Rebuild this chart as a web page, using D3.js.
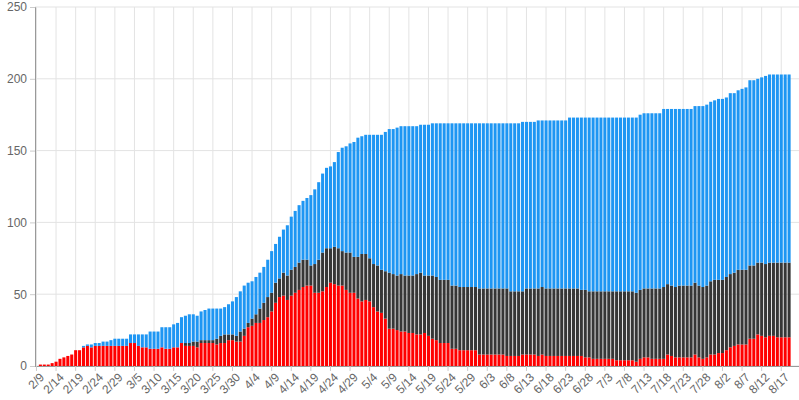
<!DOCTYPE html>
<html><head><meta charset="utf-8">
<script src="https://cdn.jsdelivr.net/npm/d3@7"></script>
<style>body{margin:0;background:#fff}svg{display:block}text{font-family:"Liberation Sans",Arial,sans-serif}</style>
</head><body><svg id="c" width="799" height="400"></svg>
<script>
const startDate = "2020-02-09";
const numDays = 193;
const tickLabels = ["2/9","2/14","2/19","2/24","2/29","3/5","3/10","3/15","3/20","3/25","3/30","4/4","4/9","4/14","4/19","4/24","4/29","5/4","5/9","5/14","5/19","5/24","5/29","6/3","6/8","6/13","6/18","6/23","6/28","7/3","7/8","7/13","7/18","7/23","7/28","8/2","8/7","8/12","8/17"];
const yTicks = [0,50,100,150,200,250];

// red series (bottom)
const redSeries = [0,1,1,1,2,3,5,6,7,8, 11,11,13,14,13,14,14,14,14,14, 14,14,14,14,16,16,14,13,13,12, 12,12,13,12,12,13,13,16,14,14,
 14,13,16,16,16,16,15,16,16,18, 18,17,17,21,27,28,30,30,
 32,34,38,44,48,49,46,49,51,53, 55,56,56,51,51,52,55,58,57,56, 56,53,51,51,47,45,46,45,41,38, 37,33,26,26,25,24,24,23,23,22, 22,23,21,19,18,16,16,
 16,12,12,11,11,11,11,11,8,8, 8,8,8,8,8,7,7,7,7,8, 8,8,8,7,8,7,7,7,7,7, 7,7,7,7,7,6,6,5,5,5,
 5,5,5,4,4,4,4,4,3,5, 6,6,5,5,5,5,8,7,6,6, 6,6,6,8,6,5,6,8,8,9, 9,11,13,14,15,15,15,19,19,22, 21,20,21,21,20,20,20,20];
// top of dark series (red + dark)
const darkTop = [0,1,1,1,2,3,5,6,7,8, 11,11,13,14,13,14,14,14,14,14, 14,14,14,14,16,16,14,13,13,12, 12,12,13,12,12,13,13,16,16,16,
 17,17,18,18,18,18,19,21,22,22, 22,21,24,26,30,33,36,40,
 44,48,51,58,61,65,63,67,69,72, 74,74,70,71,74,79,82,82,83,82, 80,79,79,76,76,78,78,75,71,70, 67,66,65,64,63,64,63,63,63,64, 65,63,63,63,62,60,60,
 60,56,56,55,55,55,55,55,54,54, 54,54,54,54,54,54,52,52,52,52, 54,54,54,54,55,54,54,54,54,54, 54,54,54,54,53,53,52,52,52,52,
 52,52,52,52,52,52,52,52,51,53, 54,54,54,54,54,55,57,56,55,56, 56,56,56,58,56,55,56,59,60,60, 60,62,64,65,67,67,67,70,70,72, 72,71,72,72,72,72,72,72];
// total height (red + dark + blue)
const totalTop = [0,1,1,1,2,3,5,6,7,8, 11,11,14,15,15,16,16,17,17,18, 19,19,19,19,22,22,22,22,22,24, 24,24,27,27,27,29,30,34,35,36,
 36,35,38,39,40,40,40,40,41,43, 45,48,52,56,58,59,62,65,
 69,74,80,85,90,95,98,104,108,112, 115,117,119,123,128,134,138,139,142,149, 152,153,155,156,159,160,161,161,161,161, 161,163,165,165,166,167,167,167,167,167, 168,168,168,169,169,169,169,
 169,169,169,169,169,169,169,169,169,169, 169,169,169,169,169,169,169,169,169,170, 170,170,170,171,171,171,171,171,171,171, 171,173,173,173,173,173,173,173,173,173,
 173,173,173,173,173,173,173,173,173,175, 176,176,176,176,176,179,179,179,179,179, 179,179,179,181,181,181,182,184,185,186, 186,187,190,190,192,193,194,199,199,200, 201,202,203,203,203,203,203,203];

const parse = d3.timeParse("%Y-%m-%d");
const fmt = d => (d.getMonth()+1) + "/" + d.getDate();
const d0 = parse(startDate);
const dates = d3.range(numDays).map(i => d3.timeDay.offset(d0, i));
const labels = dates.map(fmt);
const rows = labels.map((l,i)=>({label:l, red:redSeries[i], dark:darkTop[i]-redSeries[i], blue:totalTop[i]-darkTop[i]}));
const keys = ["red","dark","blue"];
const colors = {red:"#ff0000", dark:"#363636", blue:"#1e96f3"};
const stack = d3.stack().keys(keys)(rows);

const svg = d3.select("#c");
const x = d3.scaleBand().domain(labels).range([34.5, 34.5 + numDays*3.92]).paddingInner(0.22).paddingOuter(0.11);
const y = d3.scaleLinear().domain([0,250]).range([366,7]);
const cx = l => x(l) + x.bandwidth()/2;

// grid
svg.append("g").selectAll("line").data(yTicks).join("line")
  .attr("x1",35).attr("x2",799).attr("y1",d=>y(d)).attr("y2",d=>y(d)).attr("stroke","#e3e3e3");
svg.append("g").selectAll("line").data(tickLabels).join("line")
  .attr("x1",d=>cx(d)).attr("x2",d=>cx(d)).attr("y1",7).attr("y2",366).attr("stroke","#e3e3e3");

// bars
svg.append("g").selectAll("g").data(stack).join("g").attr("fill",d=>colors[d.key])
  .selectAll("rect").data(d=>d).join("rect")
  .attr("x",d=>x(d.data.label)).attr("width",x.bandwidth())
  .attr("y",d=>y(d[1])).attr("height",d=>Math.max(0,y(d[0])-y(d[1])));

// axes
const ya = svg.append("g").attr("transform","translate(35,0)")
  .call(d3.axisLeft(y).tickValues(yTicks).tickSize(5).tickPadding(3));
ya.select(".domain").attr("stroke","#999");
ya.selectAll(".tick line").attr("stroke","#ccc");
ya.selectAll("text").attr("fill","#666").style("font-size","12px");

const xa = svg.append("g").attr("transform","translate(0,366)")
  .call(d3.axisBottom(x).tickValues(tickLabels).tickSize(5).tickSizeOuter(0));
xa.select(".domain").attr("stroke","#999").attr("d","M35,0.5H799");
xa.selectAll(".tick line").attr("stroke","#ccc");
xa.selectAll("text").attr("fill","#666").style("font-size","12px")
  .attr("text-anchor","end").attr("dx","-0.2em").attr("dy","0.55em")
  .attr("transform","rotate(-45)");
</script></body></html>
